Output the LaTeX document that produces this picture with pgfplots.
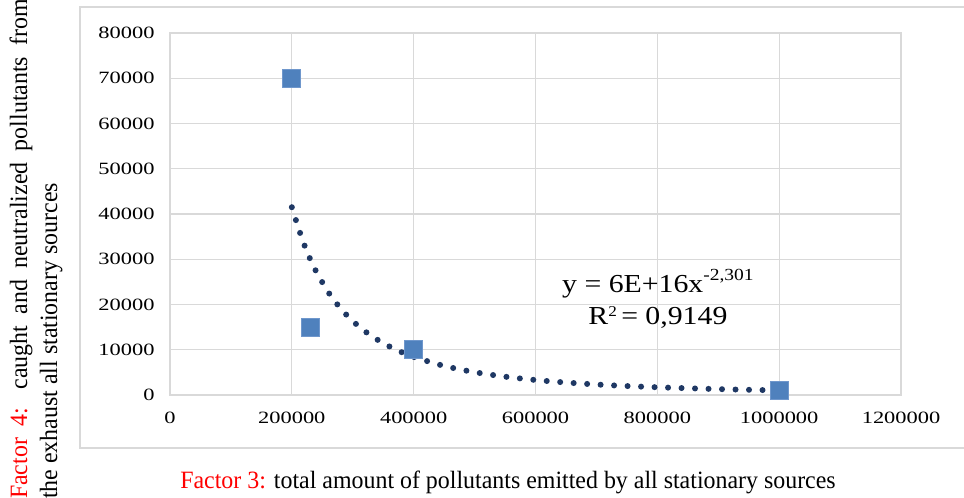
\documentclass[border=0pt]{standalone}
\usepackage{fontspec}
\setmainfont{Liberation Serif}
\newfontfamily\tickfont[FakeStretch=1.3]{Liberation Serif}
\newfontfamily\labfont[FakeStretch=0.96]{Liberation Serif}
\newfontfamily\eqfont[FakeStretch=1.15]{Liberation Serif}
\usepackage{pgfplots}
\pgfplotsset{compat=1.18}
\definecolor{markblue}{HTML}{4F81BD}
\definecolor{markedge}{HTML}{6F97CC}
\definecolor{trendnavy}{HTML}{1F3864}
\definecolor{gridgray}{HTML}{D9D9D9}

\begin{document}
\begin{tikzpicture}[x=1bp,y=1bp]
\useasboundingbox (0,0) rectangle (964,498);
% chart area frame
\draw[gridgray, line width=1.5bp] (80,50) rectangle (1000,491);
\begin{axis}[
  at={(170bp,103bp)}, anchor=south west,
  scale only axis, width=731bp, height=362bp,
  xmin=0, xmax=1200000, ymin=0, ymax=80000,
  xtick={0,200000,400000,600000,800000,1000000,1200000},
  ytick={0,10000,20000,30000,40000,50000,60000,70000,80000},
  scaled ticks=false,
  /pgf/number format/.cd, fixed, 1000 sep={}, assume math mode=true, /pgfplots/.cd,
  tick label style={font=\tickfont\fontsize{17.3}{20}\selectfont, black},
  yticklabel style={xshift=-12bp},
  xticklabel style={yshift=-14bp},
  major tick length=0pt,
  grid=major,
  major grid style={gridgray, line width=1.2bp},
  axis line style={gridgray, line width=1.2bp},
  clip=false
]
% power trendline (dotted)
\addplot[trendnavy, line width=6bp, line cap=round, dash pattern=on 0bp off 13.5bp, smooth] coordinates {
(200000,41500) (210000,37250) (220000,33330) (230000,30070) (240000,27280)
(260000,22690) (280000,19140) (300000,16330) (325000,13580) (350000,11450)
(375000,9770) (400000,8420) (450000,6420) (500000,5040) (550000,4050)
(600000,3310) (650000,2760) (700000,2320) (750000,1980) (800000,1710)
(850000,1490) (900000,1300) (950000,1150) (1000000,1020)
};
% observed values
\addplot[only marks, mark=square*, mark size=9bp, mark options={fill=markblue, draw=markedge, line width=1bp}] coordinates {
(200000,70000) (230000,15000) (400000,10000) (1000000,1000)
};
\node[font=\eqfont\fontsize{26}{32}\selectfont, align=center] at (axis cs:801000,21200)
  {y = 6E+16x\raisebox{0.45em}{\fontsize{17}{17}\selectfont-2,301}\\R\raisebox{0.3em}{\fontsize{15}{15}\selectfont 2}\,= 0,9149};
\end{axis}
\node[font=\labfont\fontsize{25}{30}\selectfont] at (508,16)
  {\textcolor{red}{Factor 3:} total amount of pollutants emitted by all stationary sources};
\node[rotate=90, font=\labfont\fontsize{25}{30}\selectfont, text width=500bp, align=justify, inner sep=0pt] at (36,249)
  {\hyphenpenalty=10000 \textcolor{red}{Factor 4:} caught and neutralized pollutants from\linebreak the exhaust all stationary sources};
\end{tikzpicture}
\end{document}
